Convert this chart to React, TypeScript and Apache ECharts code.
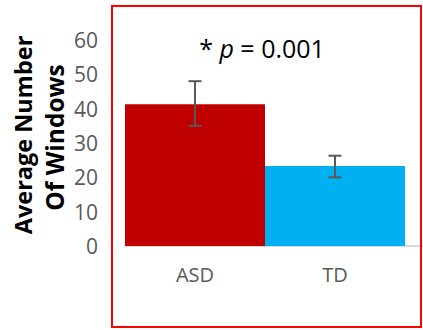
import React, { useEffect, useRef } from "react";
import * as echarts from "echarts";

const categories = ["ASD", "TD"];
const means = [41.3, 23.3];
const errLow = [35, 20];
const errHigh = [48, 26.3];
const yTicks = { min: 0, max: 60, interval: 10 };
const barColors = ["#C00000", "#00B0F0"];

export default function App() {
  const ref = useRef<HTMLDivElement>(null);
  useEffect(() => {
    if (!ref.current) return;
    const chart = echarts.init(ref.current, null, { renderer: "svg" });
    const font = "'Open Sans', sans-serif";
    chart.setOption({
      animation: false,
      backgroundColor: "#ffffff",
      grid: { left: 125, right: 18, top: 40, bottom: 84 },
      xAxis: {
        type: "category",
        data: categories,
        axisTick: { show: false },
        axisLine: { show: true, lineStyle: { color: "#d9d9d9", width: 2 } },
        axisLabel: { color: "#595959", fontSize: 20, fontFamily: font, margin: 18 },
      },
      yAxis: {
        type: "value",
        min: yTicks.min,
        max: yTicks.max,
        interval: yTicks.interval,
        splitLine: { show: false },
        axisLine: { show: false },
        axisTick: { show: false },
        axisLabel: { color: "#595959", fontSize: 21, fontFamily: font, margin: 27 },
      },
      series: [
        {
          type: "bar",
          barCategoryGap: "0%",
          data: means.map((v, i) => ({ value: v, itemStyle: { color: barColors[i] } })),
          z: 2,
        },
        {
          type: "custom",
          z: 3,
          data: categories.map((c, i) => [i, errLow[i], errHigh[i]]),
          renderItem: (params: any, api: any) => {
            const x = api.value(0);
            const lo = api.coord([x, api.value(1)]);
            const hi = api.coord([x, api.value(2)]);
            const half = 6.5;
            const style = { stroke: "#595959", lineWidth: 2 };
            return {
              type: "group",
              children: [
                { type: "line", shape: { x1: hi[0], y1: hi[1], x2: lo[0], y2: lo[1] }, style },
                { type: "line", shape: { x1: hi[0] - half, y1: hi[1], x2: hi[0] + half, y2: hi[1] }, style },
                { type: "line", shape: { x1: lo[0] - half, y1: lo[1], x2: lo[0] + half, y2: lo[1] }, style },
              ],
            };
          },
        },
      ],
      graphic: [
        {
          type: "rect",
          shape: { x: 112, y: 6, width: 309, height: 321 },
          style: { fill: "none", stroke: "#ff0000", lineWidth: 2 },
          z: 10,
        },
        {
          type: "line",
          shape: { x1: 405, y1: 246, x2: 423, y2: 246 },
          style: { stroke: "#d9d9d9", lineWidth: 2 },
        },
        {
          type: "text",
          x: 262,
          y: 48,
          style: {
            text: "{a|* }{b|p}{a| = 0.001}",
            align: "center",
            verticalAlign: "middle",
            rich: {
              a: { fontSize: 25, fontFamily: font, fill: "#000000" },
              b: { fontSize: 25, fontFamily: font, fontStyle: "italic", fill: "#000000" },
            },
          },
        },
        {
          type: "text",
          x: 23,
          y: 135,
          rotation: Math.PI / 2,
          style: {
            text: "Average Number",
            align: "center",
            verticalAlign: "middle",
            fontSize: 23.5,
            fontWeight: "bold",
            fontFamily: font,
            fill: "#000000",
          },
        },
        {
          type: "text",
          x: 54,
          y: 137.5,
          rotation: Math.PI / 2,
          style: {
            text: "Of Windows",
            align: "center",
            verticalAlign: "middle",
            fontSize: 24.5,
            fontWeight: "bold",
            fontFamily: font,
            fill: "#000000",
          },
        },
      ],
    });
    return () => chart.dispose();
  }, []);
  return <div ref={ref} style={{ width: 423, height: 330, position: "absolute", left: 0, top: 0 }} />;
}
